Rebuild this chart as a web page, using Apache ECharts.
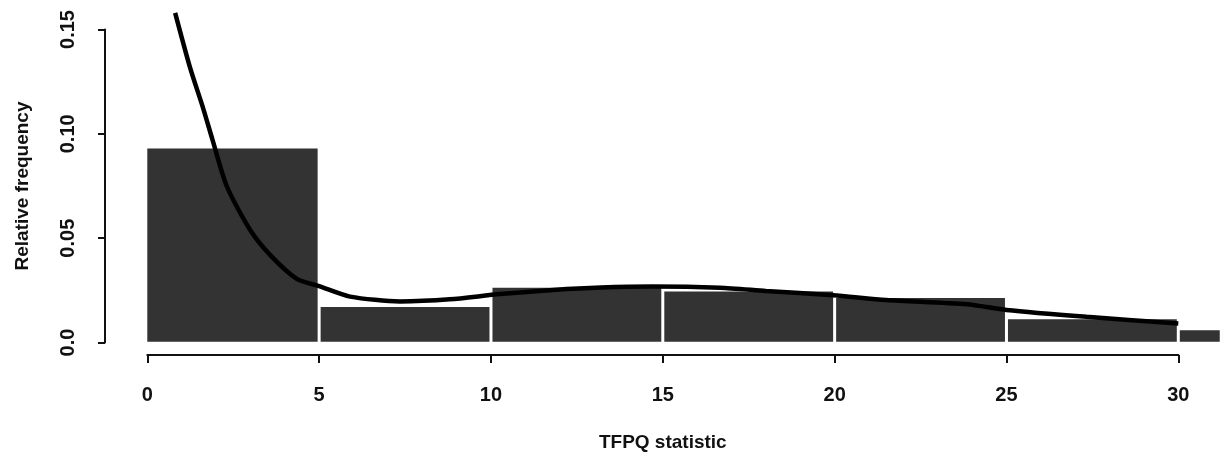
<!DOCTYPE html>
<html>
<head>
<meta charset="utf-8">
<script src="https://cdn.jsdelivr.net/npm/echarts@6/dist/echarts.min.js"></script>
<style>
html,body{margin:0;padding:0;background:#fff;}
#c{width:1221px;height:457px;}
</style>
</head>
<body>
<div id="c"></div>
<script>
// Histogram bins (start, end) and relative frequencies
const binStarts = [0, 5, 10, 15, 20, 25, 30];
const binEnds   = [5, 10, 15, 20, 25, 30, 31.25];
const binFreqs  = [0.093, 0.017, 0.0262, 0.0245, 0.0213, 0.0111, 0.0059];

// Density curve
const curveX = [0.81, 1.24, 1.63, 1.9, 2.31, 2.99, 3.57, 4.35, 5.0, 5.9, 7.35, 8.8, 10.26, 12.2, 13.2, 14.7, 16.66, 18.0, 19.95, 21.5, 23.84, 25.0, 27.33, 30.0];
const curveY = [0.158, 0.132, 0.112, 0.097, 0.075, 0.054, 0.042, 0.0305, 0.027, 0.022, 0.0197, 0.0207, 0.0232, 0.0256, 0.0264, 0.0268, 0.0262, 0.0247, 0.0227, 0.0204, 0.0183, 0.0156, 0.0123, 0.0091];

const xTicks = [0, 5, 10, 15, 20, 25, 30];
const yTickLabels = ['0.0', '0.05', '0.10', '0.15'];

const histData = binStarts.map((s, i) => [s, binEnds[i], binFreqs[i]]);
const curveData = curveX.map((x, i) => [x, curveY[i]]);

const font = "'Liberation Sans', Arial, Helvetica, sans-serif";
const chart = echarts.init(document.getElementById('c'));
chart.setOption({
  animation: false,
  backgroundColor: '#fff',
  grid: { left: 147.3, top: 29.5, width: 1031, height: 314 },
  xAxis: {
    type: 'value', min: 0, max: 30, interval: 5,
    offset: 12.5,
    name: 'TFPQ statistic', nameLocation: 'middle', nameGap: 78,
    nameTextStyle: { fontFamily: font, fontSize: 19, fontWeight: 'bold', color: '#111' },
    axisLine: { show: true, onZero: false, lineStyle: { color: '#111', width: 2 } },
    axisTick: { show: true, length: 8, lineStyle: { color: '#111', width: 2 } },
    axisLabel: { margin: 30, fontFamily: font, fontSize: 20, fontWeight: 'bold', color: '#111',
      formatter: v => (xTicks.indexOf(v) >= 0 ? String(v) : '') },
    splitLine: { show: false }
  },
  yAxis: {
    type: 'value', min: 0, max: 0.15, interval: 0.05,
    offset: 42.3,
    name: 'Relative frequency', nameLocation: 'middle', nameGap: 73,
    nameRotate: 90,
    nameTextStyle: { fontFamily: font, fontSize: 19, fontWeight: 'bold', color: '#111' },
    axisLine: { show: true, onZero: false, lineStyle: { color: '#111', width: 2 } },
    axisTick: { show: true, length: 7, lineStyle: { color: '#111', width: 2 } },
    axisLabel: { rotate: 90, margin: 27, fontFamily: font, fontSize: 20, fontWeight: 'bold', color: '#111',
      formatter: v => yTickLabels[Math.round(v / 0.05)] },
    splitLine: { show: false }
  },
  series: [
    {
      type: 'custom',
      clip: false,
      data: histData,
      encode: { x: [0, 1], y: 2 },
      renderItem: function (params, api) {
        const p0 = api.coord([api.value(0), 0]);
        const p1 = api.coord([api.value(1), api.value(2)]);
        const inset = 1.5;
        return {
          type: 'rect',
          shape: { x: p0[0] + (api.value(0) > 0 ? inset : 0), y: p1[1], width: p1[0] - p0[0] - inset - (api.value(0) > 0 ? inset : 0), height: p0[1] - p1[1] - 0.8 },
          style: { fill: '#333333' }
        };
      },
      z: 2
    },
    {
      type: 'line',
      data: curveData,
      smooth: 0.25,
      clip: false,
      showSymbol: false,
      symbol: 'none',
      lineStyle: { color: '#000', width: 4.5 },
      z: 3
    }
  ]
});
</script>
</body>
</html>
